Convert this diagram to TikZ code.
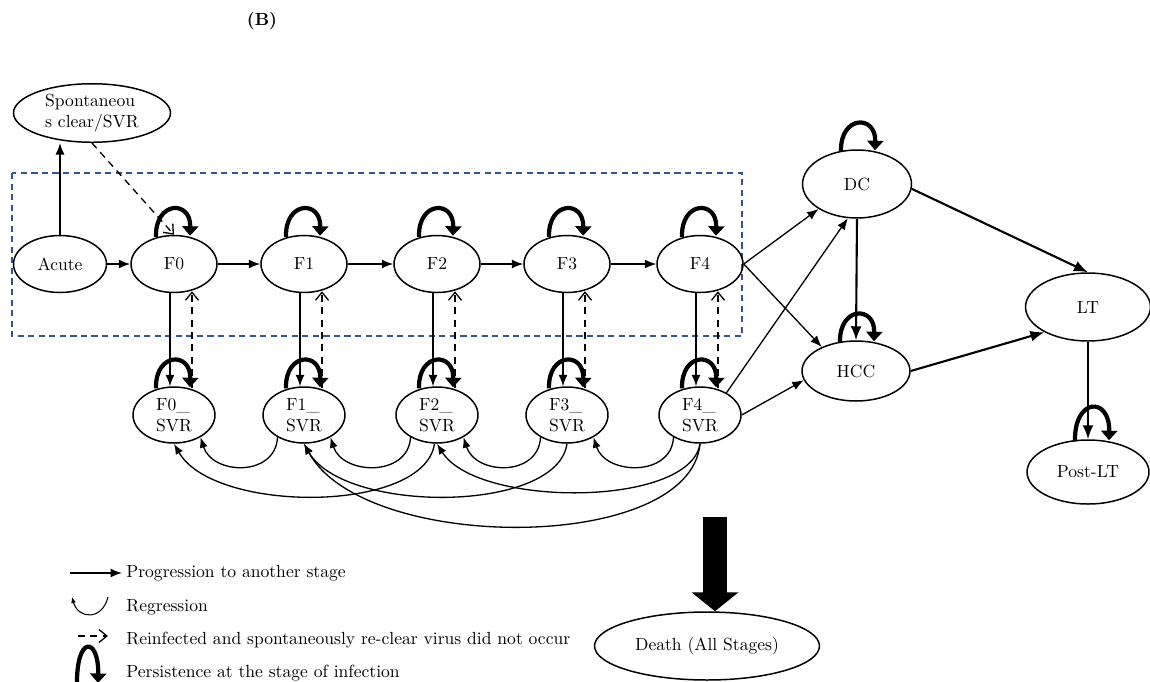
\documentclass[tikz,border=0pt]{standalone}
\usetikzlibrary{shapes.geometric,arrows.meta,calc}

\definecolor{boxblue}{RGB}{47,85,151}

\begin{document}
\begin{tikzpicture}[x=0.02cm, y=-0.02cm,
  state/.style = {shape=ellipse, draw, line width=0.85pt, inner sep=1pt,
    minimum width=1.72cm, minimum height=1.14cm},
  svr/.style = {state, align=left, minimum width=1.64cm, minimum height=1.12cm},
  prog/.style = {line width=0.75pt, -{Latex[length=2.3mm,width=1.8mm]}},
  heavy/.style = {line width=1.2pt, -{Latex[length=2.8mm,width=2.2mm]}},
  back/.style = {line width=0.75pt, -{Latex[length=2.1mm,width=1.6mm]}},
  reinf/.style = {line width=0.75pt, dash pattern=on 4pt off 3pt,
    -{Straight Barb[length=1.6mm,width=2.6mm]}},
  persist/.style = {line width=2.4pt, -{Triangle[length=1.9mm,width=3.2mm]}},
  legend/.style = {anchor=west, inner sep=0pt}]
  \useasboundingbox (0,0) rectangle (1150,681);

  \node[font=\bfseries] (title) at (262,21) {(B)};

  % stages of fibrosis
  \draw[boxblue, line width=0.8pt, dash pattern=on 3.5pt off 2.5pt]
    (12,173) rectangle (742,336);
  \node[state, align=left, minimum width=3.14cm, minimum height=1.16cm] (spont)
    at (92,113) {Spontaneou\\s clear/SVR};
  \node[state, minimum width=1.86cm] (acute) at (60,264) {Acute};
  \foreach \n/\x in {0/174,1/304,2/437,3/567,4/700} {
    \node[state] (F\n) at (\x,264) {F\n};
    \node[svr] (S\n) at (\x,415) {F\n\_\\SVR};
    \draw[persist] ($(F\n.north)+(-18,2)$) .. controls +(-1,-36) and +(1,-36) .. ($(F\n.north)+(16,1)$);
    \draw[persist] ($(S\n.north)+(-18,2)$) .. controls +(-1,-36) and +(1,-36) .. ($(S\n.north)+(16,1)$);
    \draw[prog] ($(F\n.south)+(-4,0)$) -- ($(S\n.north)+(-4,0)$);
    \draw[reinf] ($(S\n.north)+(18,2)$) -- ($(F\n.south)+(18,-2)$);
  }

  % end stages
  \node[state, minimum width=2.18cm, minimum height=1.36cm] (DC) at (857,184) {DC};
  \node[state, minimum width=2.16cm, minimum height=1.2cm] (HCC) at (856,371) {HCC};
  \node[state, minimum width=2.5cm, minimum height=1.36cm] (LT) at (1088,307) {LT};
  \node[state, minimum width=2.44cm, minimum height=1.28cm] (post) at (1088,472) {Post-LT};
  \node[state, minimum width=4.5cm, minimum height=1.36cm] (death) at (707,646) {Death (All Stages)};
  \foreach \s in {DC,HCC} {
    \draw[persist] ($(\s.north)+(-16,2)$) .. controls +(-1,-36) and +(1,-36) .. ($(\s.north)+(18,1)$);
  }
  \draw[persist] ($(post.north)+(-13,2)$) .. controls +(-1,-44) and +(1,-44) .. ($(post.north)+(21,1)$);

  \draw[prog] (acute.north) -- (acute.north |- spont.south);
  \draw[reinf] (spont.south) -- (F0.north);
  \draw[prog] (acute) -- (F0);
  \draw[prog] (F0) -- (F1);
  \draw[prog] (F1) -- (F2);
  \draw[prog] (F2) -- (F3);
  \draw[prog] (F3) -- (F4);
  \draw[prog] (F4.east) -- (DC.213);
  \draw[prog] (F4.east) -- (HCC.145);
  \draw[prog] (S4.40) -- (DC.255);
  \draw[prog] (S4.east) -- (HCC.190);
  \draw[heavy] (DC.south) -- (HCC.north);
  \draw[heavy] (DC.355) -- (LT.north);
  \draw[heavy] (HCC.east) -- (LT.210);
  \draw[heavy] (LT.south) -- (post.north);

  % regression between SVR stages
  \draw[back] (S1.220) .. controls +(-2,40) and +(12,38) .. (S0.320);
  \draw[back] (S2.220) .. controls +(-2,40) and +(12,38) .. (S1.320);
  \draw[back] (S3.220) .. controls +(-2,40) and +(12,38) .. (S2.320);
  \draw[back] (S4.220) .. controls +(-2,40) and +(12,38) .. (S3.320);
  \draw[back] (S2.265) .. controls +(-10,70) and +(40,70) .. (S0.south);
  \draw[back] (S3.south) .. controls +(-10,70) and +(40,70) .. (S1.south);
  \draw[back] (S4.south) .. controls +(-10,64) and +(40,64) .. (S2.south);
  \draw[back] (S4.south) .. controls +(-10,110) and +(60,110) .. (S1.south);

  % death from all stages
  \coordinate (dtop) at (715,517);
  \draw[line width=0.48cm, -{Triangle[length=0.38cm,width=0.92cm]}] (dtop) -- (death.north -| dtop);

  % legend
  \coordinate (lp) at (70,573);
  \coordinate (lr) at (108,597);
  \coordinate (ld) at (78,636);
  \coordinate (lk) at (77,686);
  \draw[prog] (lp) -- +(52,0);
  \draw[line width=0.6pt, -{Latex[length=1.2mm,width=1mm]}] (lr) .. controls +(-6,24) and +(6,22) .. +(-36,0);
  \draw[reinf] (ld) -- +(30,0);
  \draw[persist] (lk) .. controls +(-1,-52) and +(1,-46) .. +(21,-3);
  \node[legend] (t1) at (126,573) {Progression to another stage};
  \node[legend] (t2) at (126,607) {Regression};
  \node[legend] (t3) at (126,640) {Reinfected and spontaneously re-clear virus did not occur};
  \node[legend] (t4) at (126,673) {Persistence at the stage of infection};
\end{tikzpicture}
\end{document}
